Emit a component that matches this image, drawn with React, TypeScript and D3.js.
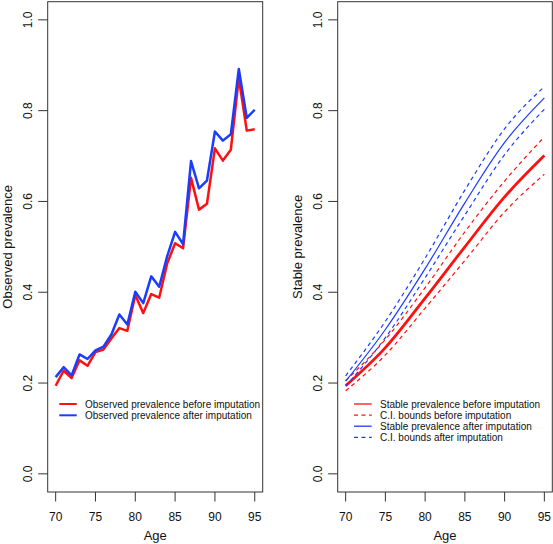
import React from "react";
import * as d3 from "d3";

const ages = d3.range(70, 96);
const obsBefore = [0.194, 0.227, 0.211, 0.250, 0.238, 0.268, 0.274, 0.298, 0.321, 0.315, 0.394, 0.354, 0.396, 0.388, 0.463, 0.508, 0.497, 0.652, 0.582, 0.595, 0.717, 0.690, 0.714, 0.872, 0.756, 0.759];
const obsAfter = [0.213, 0.235, 0.217, 0.263, 0.253, 0.272, 0.280, 0.307, 0.351, 0.329, 0.401, 0.376, 0.435, 0.412, 0.479, 0.533, 0.506, 0.689, 0.629, 0.646, 0.754, 0.734, 0.748, 0.892, 0.784, 0.802];

const stableAges = [70, 75, 80, 85, 90, 95];
const stableBefore = [0.194, 0.278, 0.387, 0.500, 0.610, 0.701];
const ciBeforeUpper = [0.205, 0.296, 0.410, 0.533, 0.645, 0.742];
const ciBeforeLower = [0.183, 0.262, 0.365, 0.470, 0.577, 0.660];
const stableAfter = [0.204, 0.318, 0.452, 0.597, 0.730, 0.828];
const ciAfterUpper = [0.216, 0.336, 0.475, 0.625, 0.760, 0.853];
const ciAfterLower = [0.193, 0.300, 0.432, 0.570, 0.703, 0.803];

const xTicks = [70, 75, 80, 85, 90, 95];
const yTicks = [0, 0.2, 0.4, 0.6, 0.8, 1.0];

const RED = "#ff1010";
const BLUE = "#1a3cff";
const FONT = "'Liberation Sans', Arial, Helvetica, sans-serif";

type Panel = { left: number; right: number };

function Axes({ p, x, y, ylabel }: { p: Panel; x: any; y: any; ylabel: string }) {
  const top = 1.7, bottom = 492;
  return (
    <g fontFamily={FONT} fill="#111">
      <rect x={p.left} y={top} width={p.right - p.left} height={bottom - top} fill="none" stroke="#333" strokeWidth={1} />
      {yTicks.map((t) => (
        <g key={"y" + t}>
          <line x1={p.left - 9.5} x2={p.left} y1={y(t)} y2={y(t)} stroke="#333" strokeWidth={1} />
          <text transform={`translate(${p.left - 15.5},${y(t)}) rotate(-90)`} textAnchor="middle" fontSize={12}>
            {d3.format(".1f")(t)}
          </text>
        </g>
      ))}
      {xTicks.map((t) => (
        <g key={"x" + t}>
          <line x1={x(t)} x2={x(t)} y1={bottom} y2={bottom + 9.5} stroke="#333" strokeWidth={1} />
          <text x={x(t)} y={520.5} textAnchor="middle" fontSize={12}>
            {t}
          </text>
        </g>
      ))}
      <text x={(p.left + p.right) / 2} y={540} textAnchor="middle" fontSize={13}>Age</text>
      <text transform={`translate(${p.left - 35.5},${(top + bottom) / 2}) rotate(-90)`} textAnchor="middle" fontSize={13}>
        {ylabel}
      </text>
    </g>
  );
}

export default function App() {
  const W = 553, H = 544;
  const pL: Panel = { left: 47.7, right: 262.7 };
  const pR: Panel = { left: 337.7, right: 552.3 };
  const y = d3.scaleLinear().domain([-0.04, 1.04]).range([492, 1.7]);
  const xL = d3.scaleLinear().domain([69, 96]).range([pL.left, pL.right]);
  const xR = d3.scaleLinear().domain([69, 96]).range([pR.left, pR.right]);

  const lineL = d3.line<number>().x((_, i) => xL(ages[i])).y((d) => y(d));
  const lineR = d3.line<number>().x((_, i) => xR(stableAges[i])).y((d) => y(d)).curve(d3.curveMonotoneX);

  const legL = [
    { label: "Observed prevalence before imputation", color: RED, dash: undefined },
    { label: "Observed prevalence after imputation", color: BLUE, dash: undefined },
  ];
  const legR = [
    { label: "Stable prevalence before imputation", color: RED, dash: undefined },
    { label: "C.I. bounds before imputation", color: RED, dash: "4,3.5" },
    { label: "Stable prevalence after imputation", color: BLUE, dash: undefined },
    { label: "C.I. bounds after imputation", color: BLUE, dash: "4,3.5" },
  ];

  return (
    <svg width={W} height={H} style={{ position: "absolute", left: 0, top: 0, background: "#fff" }}>
      <rect width={W} height={H} fill="#fff" />
      <Axes p={pL} x={xL} y={y} ylabel="Observed prevalence" />
      <path d={lineL(obsBefore) || ""} fill="none" stroke={RED} strokeWidth={2.5} strokeLinejoin="round" />
      <path d={lineL(obsAfter) || ""} fill="none" stroke={BLUE} strokeWidth={2.5} strokeLinejoin="round" />
      <g fontFamily={FONT} fontSize={10} fill="#111">
        {legL.map((l, i) => (
          <g key={l.label}>
            <line x1={59.3} x2={76.7} y1={404 + i * 11.3} y2={404 + i * 11.3} stroke={l.color} strokeWidth={2} />
            <text x={85} y={404 + i * 11.3 + 3.6}>{l.label}</text>
          </g>
        ))}
      </g>

      <Axes p={pR} x={xR} y={y} ylabel="Stable prevalence" />
      <path d={lineR(ciBeforeUpper) || ""} fill="none" stroke={RED} strokeWidth={1.2} strokeDasharray="4,3.5" />
      <path d={lineR(ciBeforeLower) || ""} fill="none" stroke={RED} strokeWidth={1.2} strokeDasharray="4,3.5" />
      <path d={lineR(stableBefore) || ""} fill="none" stroke={RED} strokeWidth={2.8} />
      <path d={lineR(ciAfterUpper) || ""} fill="none" stroke={BLUE} strokeWidth={1.2} strokeDasharray="4,3.5" />
      <path d={lineR(ciAfterLower) || ""} fill="none" stroke={BLUE} strokeWidth={1.2} strokeDasharray="4,3.5" />
      <path d={lineR(stableAfter) || ""} fill="none" stroke={BLUE} strokeWidth={1.2} />
      <g fontFamily={FONT} fontSize={10} fill="#111">
        {legR.map((l, i) => (
          <g key={l.label}>
            <line x1={354} x2={371.7} y1={404 + i * 11.1} y2={404 + i * 11.1} stroke={l.color} strokeWidth={1.3} strokeDasharray={l.dash} />
            <text x={380} y={404 + i * 11.1 + 3.6}>{l.label}</text>
          </g>
        ))}
      </g>
    </svg>
  );
}
